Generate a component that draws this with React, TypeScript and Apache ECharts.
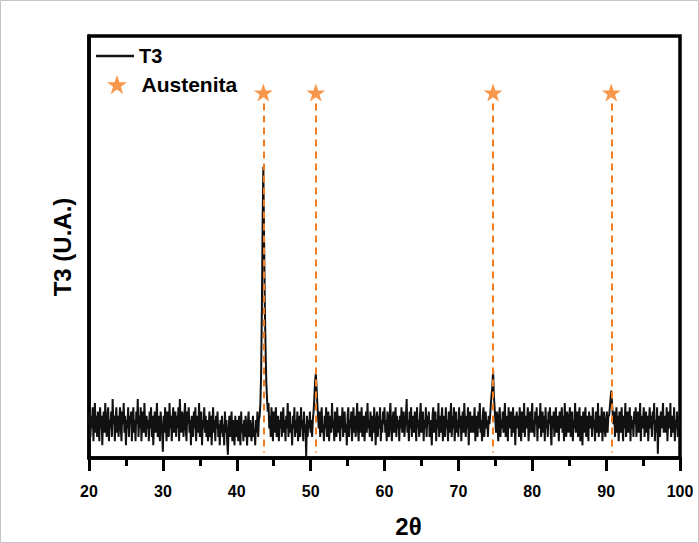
import React, { useEffect, useRef } from "react";
import * as echarts from "echarts";

// 2θ sampling of the diffractogram
const xStart = 20;
const xStep = 0.1;

// T3 intensity (U.A.), one value per 0.1° from 20° to 100° (20 values = 2°)
const intensity: number[] = [
  8, 11, 5, 10, 7, 12, 4, 9, 13, 6, 10, 5, 11, 8, 4, 12, 7, 10, 3, 9, // 20
  11, 6, 13, 8, 5, 10, 12, 4, 9, 7, 11, 5, 14, 8, 10, 4, 9, 12, 6, 10, // 22
  5, 9, 12, 7, 4, 11, 8, 13, 6, 10, 3, 9, 7, 12, 5, 10, 8, 11, 4, 9, // 24
  12, 6, 9, 4, 11, 8, 14, 5, 10, 7, 12, 4, 9, 11, 6, 13, 8, 5, 10, 7, // 26
  9, 4, 11, 7, 12, 5, 10, 3, 8, 11, 6, 9, 13, 5, 10, 7, 4, 11, 8, 6, // 28
  1.5, 10, 6, 12, 8, 4, 11, 9, 5, 13, 7, 10, 4, 9, 12, 6, 8, 11, 5, 10, // 30
  7, 12, 4, 14, 8, 6, 11, 9, 5, 10, 13, 7, 4, 11, 8, 12, 6, 9, 3, 10, // 32
  8, 5, 11, 7, 12, 4, 9, 10, 6, 13, 5, 8, 11, 3, 9, 7, 12, 6, 10, 5, // 34
  9, 4, 7, 11, 5, 10, 3, 8, 12, 6, 9, 4, 10, 7, 11, 5, 8, 3, 9, 6, // 36
  10, 5, 8, 3, 11, 6, 9, 4, 0.8, 7, 10, 5, 8, 11, 4, 9, 6, 3, 10, 7, // 38
  5, 9, 4, 10, 7, 3, 11, 6, 8, 4, 9, 5, 10, 7, 3, 8, 11, 5, 9, 6, // 40
  4, 8, 10, 5, 7, 3, 9, 6, 11, 5, 9, 10, 13, 20, 35, 55, 69, 52, 36, 26, // 42
  18, 14, 11, 13, 7, 10, 5, 12, 8, 4, 11, 6, 9, 12, 5, 8, 10, 4, 9, 7, // 44
  11, 5, 8, 12, 6, 9, 4, 10, 7, 13, 5, 9, 11, 6, 8, 3, 10, 7, 12, 5, // 46
  9, 6, 11, 4, 8, 10, 5, 12, 7, 9, 4, 11, 6, 8, 0.3, 10, 5, 9, 7, 11, // 48
  6, 9, 5, 9, 11, 14, 18, 20, 17, 13, 10, 7, 11, 5, 9, 12, 6, 8, 4, 10, // 50
  7, 12, 5, 9, 11, 4, 8, 10, 6, 13, 7, 9, 4, 11, 8, 5, 12, 6, 10, 8, // 52
  4, 10, 7, 12, 5, 9, 11, 6, 8, 3, 10, 12, 5, 9, 7, 11, 4, 8, 12, 6, // 54
  10, 5, 9, 13, 7, 4, 11, 8, 6, 12, 5, 9, 10, 4, 8, 11, 6, 13, 7, 9, // 56
  5, 11, 8, 4, 10, 6, 12, 9, 3, 8, 11, 5, 10, 7, 12, 4, 9, 6, 11, 8, // 58
  12, 6, 9, 4, 11, 8, 5, 10, 13, 7, 4, 9, 11, 6, 8, 12, 5, 10, 7, 9, // 60
  4, 10, 7, 12, 6, 9, 11, 5, 8, 10, 14, 6, 9, 4, 11, 7, 12, 5, 8, 10, // 62
  6, 11, 8, 4, 12, 7, 9, 5, 10, 13, 6, 8, 11, 4, 9, 7, 12, 5, 10, 8, // 64
  11, 5, 9, 7, 3, 10, 12, 6, 8, 11, 4, 9, 7, 13, 5, 10, 6, 9, 12, 4, // 66
  8, 10, 5, 12, 7, 9, 4, 11, 6, 8, 13, 5, 10, 7, 12, 4, 9, 11, 6, 9, // 68
  5, 12, 7, 10, 4, 9, 11, 6, 13, 8, 5, 10, 7, 12, 3, 9, 11, 6, 8, 10, // 70
  6, 9, 12, 4, 10, 8, 5, 11, 7, 13, 6, 9, 4, 10, 12, 5, 8, 11, 7, 9, // 72
  5, 10, 8, 10, 13, 15, 17, 20.7, 15, 12, 9, 6, 11, 8, 4, 10, 12, 5, 9, 7, // 74
  11, 6, 9, 13, 5, 8, 10, 4, 12, 7, 9, 11, 5, 8, 12, 6, 10, 3, 9, 11, // 76
  7, 10, 5, 12, 8, 4, 11, 9, 6, 13, 5, 10, 7, 9, 12, 4, 8, 11, 6, 10, // 78
  13, 6, 9, 5, 11, 8, 12, 4, 10, 7, 9, 13, 5, 8, 11, 6, 10, 4, 12, 7, // 80
  9, 5, 11, 8, 12, 6, 3, 10, 7, 11, 5, 9, 12, 6, 8, 10, 4, 11, 7, 9, // 82
  12, 6, 10, 4, 13, 8, 5, 11, 9, 6, 10, 12, 5, 8, 11, 4, 9, 7, 13, 6, // 84
  8, 11, 5, 9, 12, 4, 10, 7, 3, 11, 6, 9, 12, 5, 10, 8, 4, 11, 7, 9, // 86
  10, 5, 12, 7, 9, 4, 11, 8, 6, 13, 5, 9, 10, 6, 12, 4, 8, 11, 7, 5, // 88
  9, 11, 6, 10, 10, 12, 14, 16, 13, 10, 8, 11, 5, 9, 12, 6, 10, 4, 11, 8, // 90
  6, 12, 8, 4, 10, 7, 13, 5, 9, 11, 6, 8, 12, 4, 10, 7, 9, 5, 11, 8, // 92
  12, 5, 9, 11, 6, 8, 13, 4, 10, 7, 9, 12, 5, 8, 11, 6, 10, 4, 9, 12, // 94
  7, 10, 5, 11, 8, 13, 4, 9, 6, 12, 1, 8, 10, 5, 11, 7, 9, 13, 6, 8, // 96
  10, 6, 12, 4, 9, 11, 7, 13, 5, 8, 10, 6, 12, 4, 9, 7, 11, 5, 10, 8, // 98
  7, // 100
];

// Austenite reflections (2θ)
const austenitePeaks: number[] = [43.6, 50.7, 74.7, 90.7];
const starLevel = 86.6;
const dashTop = 84;
const dashBottom = 1.3;

const xTicks = { min: 20, max: 100, interval: 10 };

const ORANGE = "#F47D1F";
const FONT = "'Liberation Sans', Arial, Helvetica, sans-serif";
const STAR =
  "path://M50,0 L61.8,34.5 L97.6,34.5 L68.8,55.9 L79.4,90.5 L50,69.1 L20.6,90.5 L31.2,55.9 L2.4,34.5 L38.2,34.5 Z";

export default function App() {
  const ref = useRef<HTMLDivElement>(null);

  useEffect(() => {
    if (!ref.current) return;
    const chart = echarts.init(ref.current, undefined, { renderer: "svg" });
    const lineData = intensity.map((v, i) => [+(xStart + i * xStep).toFixed(1), v]);
    const starData = austenitePeaks.map((p) => [p, starLevel]);

    chart.setOption({
      animation: false,
      backgroundColor: "#fff",
      textStyle: { fontFamily: FONT },
      graphic: [
        {
          type: "rect",
          shape: { x: 0.5, y: 0.5, width: 698, height: 542 },
          style: { fill: "none", stroke: "#c4c4c4", lineWidth: 1 },
          silent: true,
        },
      ],
      grid: {
        left: 89,
        right: 19,
        top: 36,
        bottom: 82,
        show: true,
        borderColor: "#000",
        borderWidth: 3.5,
        backgroundColor: "transparent",
      },
      legend: [
        {
          orient: "vertical",
          left: 96,
          top: 46,
          padding: 0,
          itemWidth: 38,
          itemHeight: 2.6,
          selectedMode: false,
          textStyle: { fontSize: 20, fontWeight: "bold", color: "#000", fontFamily: FONT },
          data: [{ name: "T3", icon: "rect" }],
        },
        {
          orient: "vertical",
          left: 107,
          top: 74,
          padding: 0,
          itemWidth: 29,
          itemHeight: 19,
          selectedMode: false,
          textStyle: {
            fontSize: 21,
            fontWeight: "bold",
            color: "#000",
            fontFamily: FONT,
            padding: [0, 0, 0, 5],
          },
          data: [{ name: "Austenita", icon: STAR }],
        },
      ],
      xAxis: {
        type: "value",
        min: xTicks.min,
        max: xTicks.max,
        interval: xTicks.interval,
        name: "2θ",
        nameLocation: "middle",
        nameGap: 56,
        nameTextStyle: {
          fontSize: 24,
          fontWeight: "bold",
          color: "#000",
          fontFamily: FONT,
          padding: [0, 0, 0, 48],
        },
        axisLine: { show: true, onZero: false, lineStyle: { color: "#000", width: 3.5 } },
        axisTick: { show: true, length: 13, lineStyle: { color: "#000", width: 3 } },
        minorTick: { show: true, splitNumber: 2, length: 8, lineStyle: { color: "#000", width: 3 } },
        axisLabel: { fontSize: 16, fontWeight: "bold", color: "#000", margin: 25, fontFamily: FONT },
        splitLine: { show: false },
      },
      yAxis: {
        type: "value",
        min: 0,
        max: 100,
        name: "T3 (U.A.)",
        nameLocation: "middle",
        nameGap: 15,
        nameTextStyle: { fontSize: 24, fontWeight: "bold", color: "#000", fontFamily: FONT },
        axisLine: { show: true, lineStyle: { color: "#000", width: 3.5 } },
        axisTick: { show: false },
        axisLabel: { show: false },
        splitLine: { show: false },
      },
      series: [
        {
          name: "T3",
          type: "line",
          data: lineData,
          symbol: "none",
          showSymbol: false,
          lineStyle: { color: "#111", width: 2 },
          itemStyle: { color: "#111" },
          z: 2,
        },
        {
          name: "Austenita",
          type: "scatter",
          data: starData,
          symbol: STAR,
          symbolSize: 19,
          symbolKeepAspect: true,
          itemStyle: { color: ORANGE },
          z: 4,
          markLine: {
            silent: true,
            symbol: ["none", "none"],
            label: { show: false },
            lineStyle: { color: ORANGE, width: 2, type: [7, 5] },
            data: austenitePeaks.map((p) => [
              { coord: [p, dashTop] },
              { coord: [p, dashBottom] },
            ]),
          },
        },
      ],
    });
    return () => chart.dispose();
  }, []);

  return (
    <div
      ref={ref}
      style={{ position: "absolute", left: 0, top: 0, width: 699, height: 543 }}
    />
  );
}
